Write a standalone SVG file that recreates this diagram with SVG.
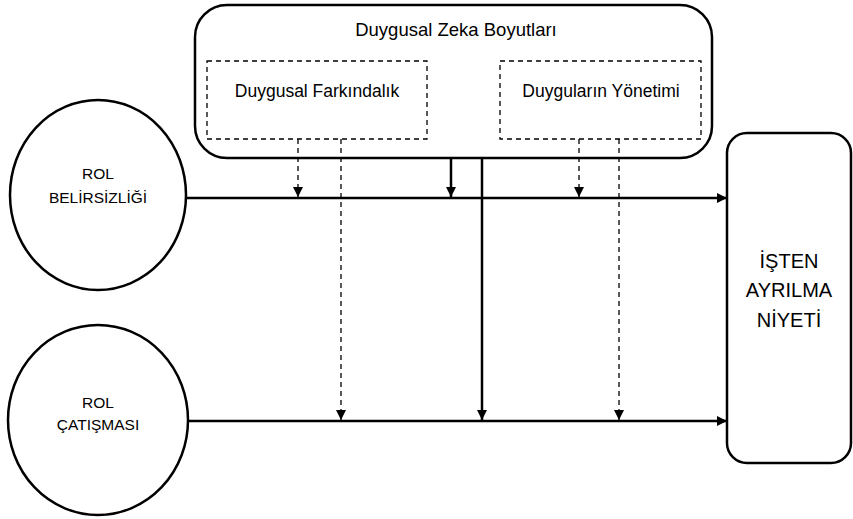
<svg xmlns="http://www.w3.org/2000/svg" width="853" height="519" viewBox="0 0 853 519">
<style>
text{font-family:"Liberation Sans",Arial,sans-serif;fill:#000;text-anchor:middle}
.node{fill:#fff;stroke:#000;stroke-width:2.5}
.dash{fill:none;stroke:#000;stroke-width:1.3;stroke-dasharray:5,4}
.solid{fill:none;stroke:#000;stroke-width:2.5}
.dl{fill:none;stroke:#000;stroke-width:1.3;stroke-dasharray:5,4}
</style>
<defs>
<marker id="ah" viewBox="0 0 10 10" refX="10" refY="5" markerWidth="10" markerHeight="10" markerUnits="userSpaceOnUse" orient="auto">
<path d="M0,0 L10,5 L0,10 Z" fill="#000"/>
</marker>
<marker id="ahs" viewBox="0 0 10 10" refX="10" refY="5" markerWidth="10" markerHeight="10" markerUnits="userSpaceOnUse" orient="auto">
<path d="M0,0 L10,5 L0,10 Z" fill="#000"/>
</marker>
</defs>
<g id="dz">
<rect class="node" x="195" y="5" width="517" height="153" rx="32"/>
<text x="456" y="36" font-size="18.5">Duygusal Zeka Boyutları</text>
</g>
<g id="farkindalik">
<rect class="dash" x="207" y="61" width="220" height="78"/>
<text x="317" y="97" font-size="17.5">Duygusal Farkındalık</text>
</g>
<g id="yonetim">
<rect class="dash" x="500" y="61" width="201" height="78"/>
<text x="601" y="97" font-size="17.5">Duyguların Yönetimi</text>
</g>
<g id="rb">
<ellipse class="node" cx="98" cy="195" rx="88" ry="95"/>
<text x="98" y="179" font-size="15.5">ROL</text>
<text x="98" y="203" font-size="15.5">BELİRSİZLİĞİ</text>
</g>
<g id="rc">
<ellipse class="node" cx="98" cy="420" rx="90" ry="95"/>
<text x="98" y="408" font-size="15.5">ROL</text>
<text x="98" y="430" font-size="15.5">ÇATIŞMASI</text>
</g>
<g id="ian">
<rect class="node" x="727" y="133" width="124" height="330" rx="20"/>
<text x="789" y="268" font-size="20">İŞTEN</text>
<text x="789" y="297" font-size="20">AYRILMA</text>
<text x="789" y="327" font-size="20">NİYETİ</text>
</g>
<g id="connectors">
<line class="solid" x1="187" y1="198" x2="727" y2="198" marker-end="url(#ah)"/>
<line class="solid" x1="189" y1="421" x2="727" y2="421" marker-end="url(#ah)"/>
<line class="solid" x1="451" y1="158" x2="451" y2="197" marker-end="url(#ahs)"/>
<line class="solid" x1="482" y1="158" x2="482" y2="420" marker-end="url(#ahs)"/>
<line class="dl" x1="298" y1="139" x2="298" y2="197" marker-end="url(#ah)"/>
<line class="dl" x1="341" y1="139" x2="341" y2="420" marker-end="url(#ah)"/>
<line class="dl" x1="579" y1="139" x2="579" y2="197" marker-end="url(#ah)"/>
<line class="dl" x1="619" y1="139" x2="619" y2="420" marker-end="url(#ah)"/>
</g>
</svg>
